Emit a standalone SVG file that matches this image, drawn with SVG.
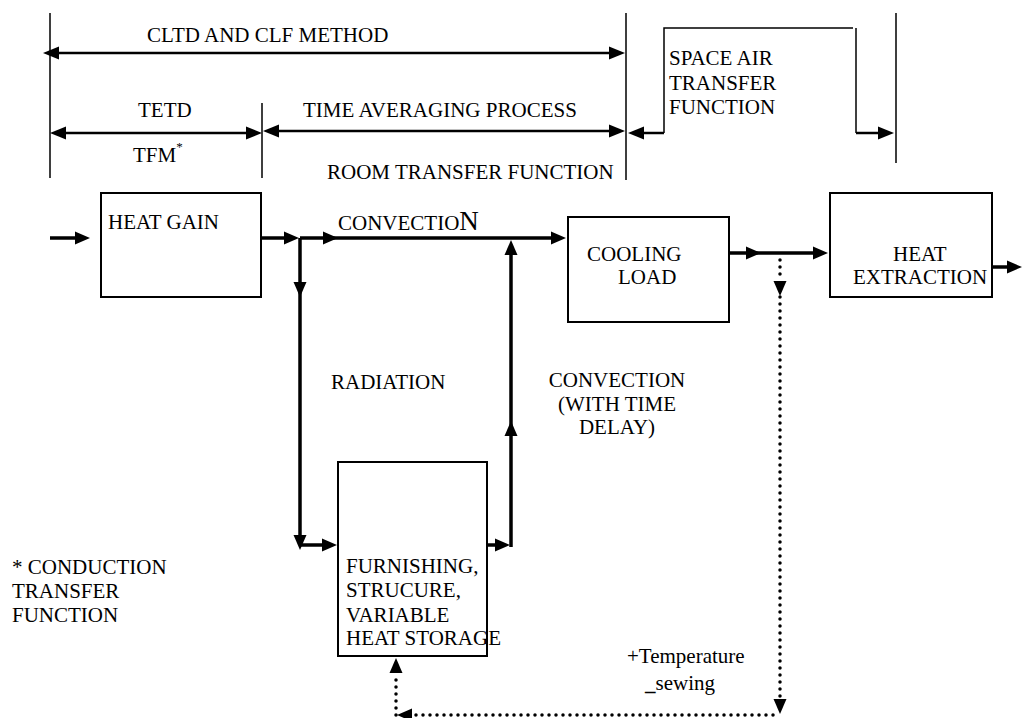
<svg xmlns="http://www.w3.org/2000/svg" width="1022" height="718" viewBox="0 0 1022 718">
<style>
.box{fill:#fff;stroke:#000;stroke-width:2}
.thin{fill:none;stroke:#000;stroke-width:1.5}
.dim{fill:none;stroke:#000;stroke-width:2.5}
.heavy{fill:none;stroke:#000;stroke-width:3.5}
.dot{fill:none;stroke:#000;stroke-width:3.5;stroke-linecap:round;stroke-dasharray:0 7}
</style>
<defs>
<marker id="ah" markerUnits="userSpaceOnUse" markerWidth="15" markerHeight="14" refX="1" refY="6.5" orient="auto" overflow="visible">
<path d="M0,0 L15,6.5 L0,13 z" fill="#000"/>
</marker>
<marker id="ad" markerUnits="userSpaceOnUse" markerWidth="16" markerHeight="14" refX="1" refY="6.5" orient="auto" overflow="visible">
<path d="M0,0 L16,6.5 L0,13 z" fill="#000"/>
</marker>
</defs>
<rect width="1022" height="718" fill="#fff"/>

<g font-family="Liberation Serif, DejaVu Serif, serif" font-size="21" fill="#000">
<g id="scale-bars">
<path class="thin" d="M50,13 V178 M262,103 V178 M626,13 V180 M896,13 V163"/>
<path class="dim" d="M340,53 H58" marker-end="url(#ad)"/>
<path class="dim" d="M340,53 H610" marker-end="url(#ad)"/>
<path class="dim" d="M150,133 H65" marker-end="url(#ad)"/>
<path class="dim" d="M150,133 H247" marker-end="url(#ad)"/>
<path class="dim" d="M440,131 H278" marker-end="url(#ad)"/>
<path class="dim" d="M440,131 H610" marker-end="url(#ad)"/>
<path class="thin" d="M664,133 V28 H853"/>
<path class="dim" d="M664,133 H643" marker-end="url(#ad)"/>
<path class="thin" d="M856,28 V133"/>
<path class="dim" d="M856,133 H879" marker-end="url(#ad)"/>
<text x="147" y="42">CLTD AND CLF METHOD</text>
<text x="138" y="117">TETD</text>
<text x="303" y="117">TIME AVERAGING PROCESS</text>
<text x="133" y="162">TFM<tspan font-size="13" dy="-11">*</tspan></text>
<text x="327" y="179">ROOM TRANSFER FUNCTION</text>
<text x="669" y="65">SPACE AIR</text>
<text x="669" y="90">TRANSFER</text>
<text x="669" y="114">FUNCTION</text>
</g>

<g id="connectors">
<path class="heavy" d="M50,238 H76" marker-end="url(#ah)"/>
<path class="heavy" d="M261,238 H285" marker-end="url(#ah)"/>
<path class="heavy" d="M300,238 H324" marker-end="url(#ah)"/>
<path class="heavy" d="M323,238 H552" marker-end="url(#ah)"/>
<path class="heavy" d="M300,238 V283" marker-end="url(#ah)"/>
<path class="heavy" d="M300,282 V536" marker-end="url(#ah)"/>
<path class="heavy" d="M300,545 H323" marker-end="url(#ah)"/>
<path class="heavy" d="M481,545 H496" marker-end="url(#ah)"/>
<path class="heavy" d="M511,547 V435" marker-end="url(#ah)"/>
<path class="heavy" d="M511,436 V254" marker-end="url(#ah)"/>
<path class="heavy" d="M723,253 H747" marker-end="url(#ah)"/>
<path class="heavy" d="M746,253 H814" marker-end="url(#ah)"/>
<path class="heavy" d="M992,267 H1008" marker-end="url(#ah)"/>
<path class="dot" d="M780,260 V281"/>
<path class="heavy" d="M780,281 V282" marker-end="url(#ah)"/>
<path class="dot" d="M780,297 V700"/>
<path class="heavy" d="M780,699 V700" marker-end="url(#ah)"/>
<path class="dot" d="M773,715 H410"/>
<path class="heavy" d="M412,715 H411" marker-end="url(#ah)"/>
<path class="dot" d="M396,715 V673"/>
<path class="heavy" d="M396,673 V672" marker-end="url(#ah)"/>
</g>

<g id="heat-gain">
<rect class="box" x="101" y="193" width="160" height="104"/>
<text x="108" y="229">HEAT GAIN</text>
</g>

<g id="cooling-load">
<rect class="box" x="568" y="217" width="161" height="105"/>
<text x="587" y="261">COOLING</text>
<text x="618" y="284">LOAD</text>
</g>

<g id="heat-extraction">
<rect class="box" x="830" y="193" width="162" height="104"/>
<text x="893" y="261">HEAT</text>
<text x="853" y="284">EXTRACTION</text>
</g>

<g id="heat-storage">
<rect class="box" x="338" y="462" width="149" height="194"/>
<text x="346" y="573">FURNISHING,</text>
<text x="346" y="597">STRUCURE,</text>
<text x="346" y="622">VARIABLE</text>
<text x="346" y="645">HEAT STORAGE</text>
</g>

<g id="labels">
<text x="338" y="230">CONVECTIO<tspan font-size="27">N</tspan></text>
<text x="331" y="389">RADIATION</text>
<text x="617" y="387" text-anchor="middle">CONVECTION</text>
<text x="617" y="411" text-anchor="middle">(WITH TIME</text>
<text x="617" y="434" text-anchor="middle">DELAY)</text>
<text x="12" y="574">* CONDUCTION</text>
<text x="12" y="598">TRANSFER</text>
<text x="12" y="622">FUNCTION</text>
<text x="627" y="663">+Temperature</text>
<text x="645" y="690"><tspan font-weight="bold">_</tspan>sewing</text>
</g>
</g>
</svg>
